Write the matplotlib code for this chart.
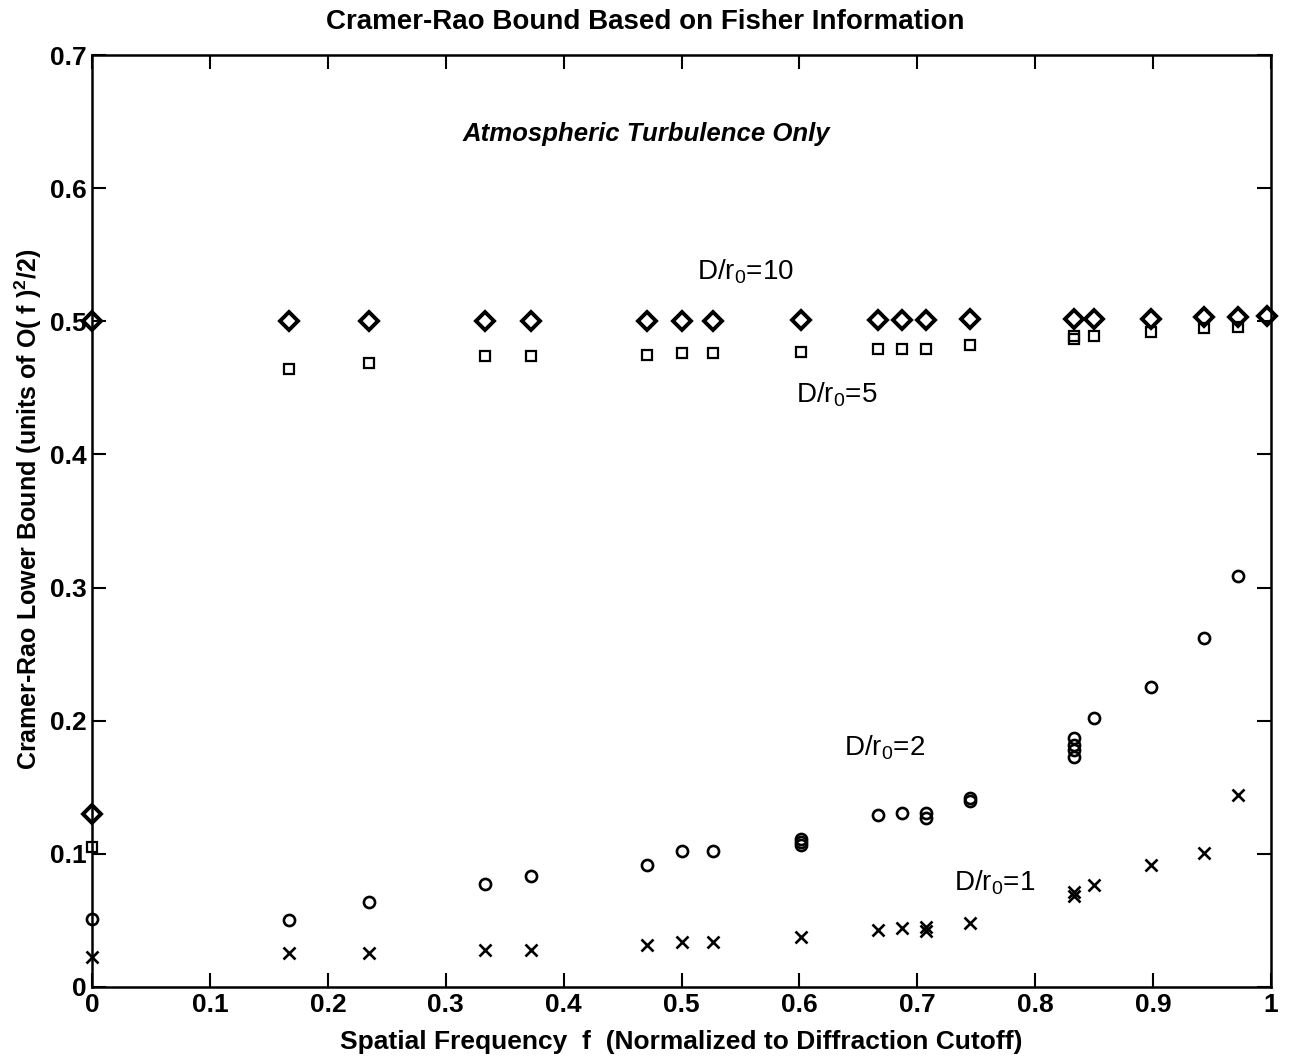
import matplotlib
matplotlib.use("Agg")
import matplotlib.pyplot as plt

plt.rcParams['font.family'] = ['Liberation Sans', 'DejaVu Sans']
plt.rcParams['mathtext.default'] = 'regular'

# D/r0 = 10 (diamonds)
f10 = [0, 0, 0.167, 0.235, 0.333, 0.372, 0.471, 0.5, 0.527, 0.601, 0.667, 0.687, 0.707,
       0.745, 0.833, 0.850, 0.898, 0.943, 0.972, 0.997]
v10 = [0.5, 0.13, 0.5, 0.5, 0.5, 0.5, 0.5, 0.5, 0.5, 0.501, 0.501, 0.501, 0.501,
       0.502, 0.502, 0.502, 0.502, 0.503, 0.503, 0.504]

# D/r0 = 5 (squares)
f5 = [0, 0.167, 0.235, 0.333, 0.372, 0.471, 0.5, 0.527, 0.601, 0.667, 0.687, 0.707,
      0.745, 0.833, 0.833, 0.850, 0.898, 0.943, 0.972]
v5 = [0.105, 0.464, 0.469, 0.474, 0.474, 0.475, 0.476, 0.476, 0.477, 0.479, 0.479, 0.479,
      0.482, 0.487, 0.489, 0.489, 0.492, 0.495, 0.496]

# D/r0 = 2 (circles)
f2 = [0, 0.167, 0.235, 0.333, 0.372, 0.471, 0.5, 0.527, 0.601, 0.601, 0.601, 0.667, 0.687,
      0.707, 0.707, 0.745, 0.745, 0.833, 0.833, 0.833, 0.833, 0.850, 0.898, 0.943, 0.972]
v2 = [0.051, 0.050, 0.064, 0.077, 0.083, 0.092, 0.102, 0.102, 0.107, 0.109, 0.111, 0.129, 0.131,
      0.131, 0.127, 0.140, 0.142, 0.173, 0.178, 0.182, 0.187, 0.202, 0.225, 0.262, 0.309]

# D/r0 = 1 (crosses)
f1 = [0, 0.167, 0.235, 0.333, 0.372, 0.471, 0.5, 0.527, 0.601, 0.667, 0.687,
      0.707, 0.707, 0.745, 0.833, 0.833, 0.850, 0.898, 0.943, 0.972]
v1 = [0.0225, 0.0255, 0.0255, 0.028, 0.028, 0.0315, 0.034, 0.034, 0.0375, 0.043, 0.044,
      0.042, 0.045, 0.048, 0.068, 0.071, 0.0765, 0.0917, 0.1006, 0.144]

xticks = [0, 0.1, 0.2, 0.3, 0.4, 0.5, 0.6, 0.7, 0.8, 0.9, 1]
xticklabels = ['0', '0.1', '0.2', '0.3', '0.4', '0.5', '0.6', '0.7', '0.8', '0.9', '1']
yticks = [0, 0.1, 0.2, 0.3, 0.4, 0.5, 0.6, 0.7]
yticklabels = ['0', '0.1', '0.2', '0.3', '0.4', '0.5', '0.6', '0.7']

fig = plt.figure(figsize=(12.91, 10.59), dpi=100)
ax = fig.add_axes([0.0713, 0.068, 0.9132, 0.880])

ax.plot(f10, v10, linestyle='none', marker='D', ms=9.5, mfc='none', mec='black', mew=2.8, clip_on=False)
ax.plot(f5, v5, linestyle='none', marker='s', ms=7, mfc='none', mec='black', mew=1.6, clip_on=False)
ax.plot(f2, v2, linestyle='none', marker='o', ms=8, mfc='none', mec='black', mew=1.9, clip_on=False)
ax.plot(f1, v1, linestyle='none', marker='x', ms=8, mec='black', mew=1.9, clip_on=False)

ax.set_xlim(0, 1)
ax.set_ylim(0, 0.7)
ax.set_xticks(xticks)
ax.set_xticklabels(xticklabels)
ax.set_yticks(yticks)
ax.set_yticklabels(yticklabels)
ax.tick_params(direction='in', length=10, width=1.5, top=True, right=True, labelsize=19, pad=4)
for lab in ax.get_xticklabels() + ax.get_yticklabels():
    lab.set_fontweight('bold')
for sp in ax.spines.values():
    sp.set_linewidth(1.8)

fig.text(0.5, 1 - 22 / 1059, 'Cramer-Rao Bound Based on Fisher Information',
         fontsize=20, fontweight='bold', ha='center', va='center')
ax.set_xlabel('Spatial Frequency  f  (Normalized to Diffraction Cutoff)', fontsize=19, fontweight='bold', labelpad=10)
ax.set_ylabel('Cramer-Rao Lower Bound (units of O( f )$^2$/2)', fontsize=18, fontweight='bold')
ax.yaxis.set_label_coords(-0.041, 0.513)

ax.text(0.47, 0.641, 'Atmospheric Turbulence Only', fontsize=18.5, fontweight='bold', fontstyle='italic', ha='center', va='center')
ax.text(0.513, 0.537, 'D/r$_0$=10', fontsize=20, ha='left', va='center')
ax.text(0.597, 0.445, 'D/r$_0$=5', fontsize=20, ha='left', va='center')
ax.text(0.638, 0.180, 'D/r$_0$=2', fontsize=20, ha='left', va='center')
ax.text(0.731, 0.078, 'D/r$_0$=1', fontsize=20, ha='left', va='center')

fig.savefig('out.png', dpi=100)
